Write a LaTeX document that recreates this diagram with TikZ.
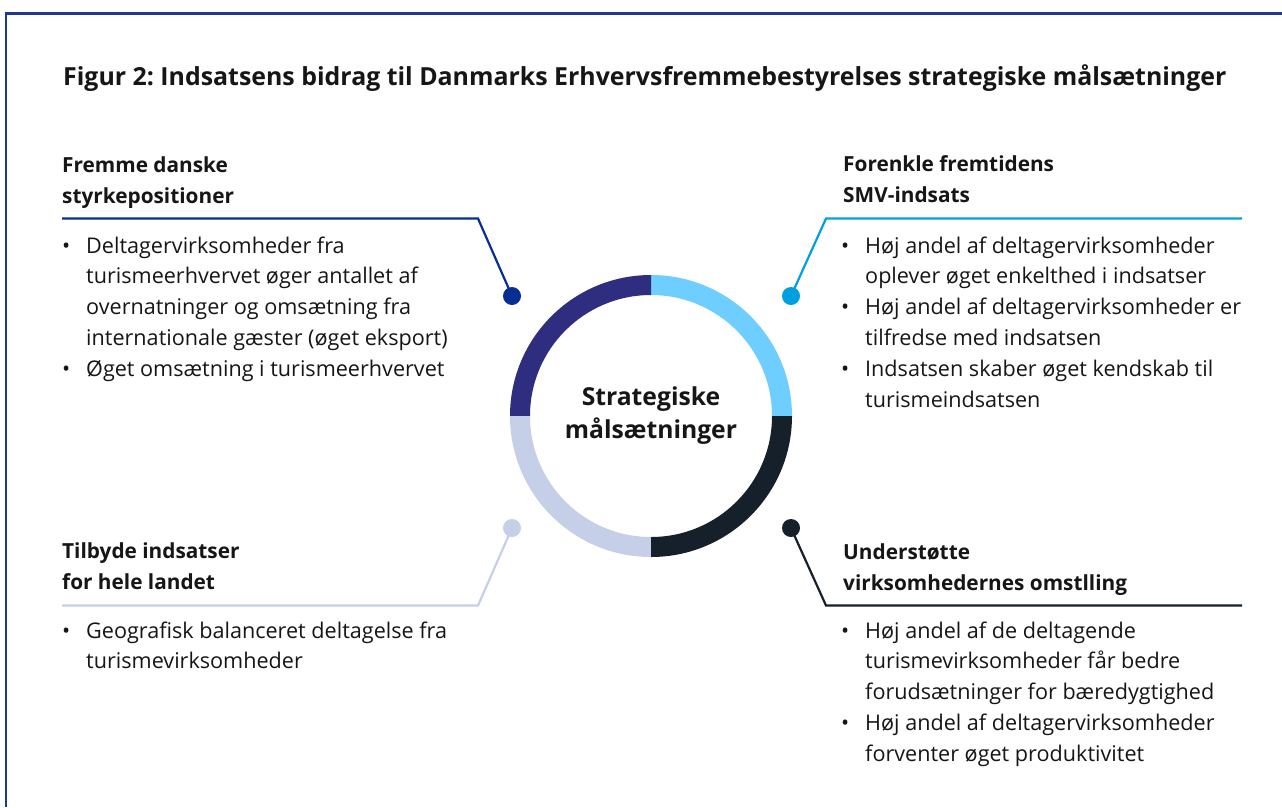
\documentclass[tikz,border=0pt]{standalone}
\usepackage{fontspec}
\setmainfont{Open Sans}
\usepackage{array}
\frenchspacing
\definecolor{frameblue}{RGB}{28,57,153}
\definecolor{segTL}{RGB}{46,45,127}
\definecolor{lineTL}{RGB}{8,46,150}
\definecolor{segTR}{RGB}{110,206,255}
\definecolor{lineTR}{RGB}{0,160,224}
\definecolor{segBR}{RGB}{22,32,42}
\definecolor{segBL}{RGB}{197,208,232}
\definecolor{txt}{RGB}{22,22,22}
\pgfdeclareradialshading{innershadow}{\pgfpoint{0bp}{-4bp}}{color(0bp)=(white); color(39bp)=(white); color(45bp)=(black!14); color(50bp)=(black!36)}
\tikzset{
  body/.style={anchor=base west, inner sep=0pt, text=txt, font=\fontsize{21.6}{30.8}\selectfont\frenchspacing},
  head/.style={anchor=base west, inner sep=0pt, text=txt, align=left, font=\fontsize{20.8}{31}\selectfont\bfseries},
  dotnode/.style={circle, inner sep=0pt, minimum size=18pt},
  conn/.style={line width=2.2pt, line join=miter},
}
\newcommand{\blist}[1]{\renewcommand{\arraystretch}{1}\begin{tabular}[t]{@{}p{24pt}@{}l@{}}#1\end{tabular}}
\begin{document}
\begin{tikzpicture}[x=1pt,y=-1pt]
\useasboundingbox (0,0) rectangle (1282,807);
\fill[white] (0,0) rectangle (1282,807);
% frame
\draw[frameblue, line width=2.6pt] (6,807) -- (6,13.5) -- (1282,13.5);
% title
\node[anchor=base west, inner sep=0pt, text=txt, font=\fontsize{24.9}{28}\selectfont\bfseries\frenchspacing] (title) at (63,85)
  {Figur 2: Indsatsens bidrag til Danmarks Erhvervsfremmebestyrelses strategiske målsætninger};
% ring
\coordinate (C) at (651,416);
\shade[shading=innershadow] (C) circle[radius=121pt];
\fill[segTR] ([shift={(0:141pt)}]C) arc[start angle=0,end angle=90,radius=141pt] -- ([shift={(90:121pt)}]C) arc[start angle=90,end angle=0,radius=121pt] -- cycle;
\fill[segTL] ([shift={(90:141pt)}]C) arc[start angle=90,end angle=180,radius=141pt] -- ([shift={(180:121pt)}]C) arc[start angle=180,end angle=90,radius=121pt] -- cycle;
\fill[segBL] ([shift={(180:141pt)}]C) arc[start angle=180,end angle=270,radius=141pt] -- ([shift={(270:121pt)}]C) arc[start angle=270,end angle=180,radius=121pt] -- cycle;
\fill[segBR] ([shift={(270:141pt)}]C) arc[start angle=270,end angle=360,radius=141pt] -- ([shift={(0:121pt)}]C) arc[start angle=360,end angle=270,radius=121pt] -- cycle;
\node[inner sep=0pt, text=txt, align=center, font=\fontsize{24.7}{33}\selectfont\bfseries, anchor=base] (center) at (651,438)
  {Strategiske\\målsætninger};
% dots
\node[dotnode, fill=lineTL] (dTL) at (512,296) {};
\node[dotnode, fill=lineTR] (dTR) at (791,296) {};
\node[dotnode, fill=segBL] (dBL) at (512,528) {};
\node[dotnode, fill=segBR] (dBR) at (791,528) {};
\coordinate (kTL) at (478,218.5); \coordinate (eTL) at (62,218.5);
\coordinate (kTR) at (826,218.5); \coordinate (eTR) at (1242,218.5);
\coordinate (kBL) at (478,605.5); \coordinate (eBL) at (62,605.5);
\coordinate (kBR) at (826,605.5); \coordinate (eBR) at (1242,605.5);
\draw[conn, lineTL] (dTL.center) -- (kTL) -- (eTL);
\draw[conn, lineTR] (dTR.center) -- (kTR) -- (eTR);
\draw[conn, segBL] (dBL.center) -- (kBL) -- (eBL);
\draw[conn, segBR] (dBR.center) -- (kBR) -- (eBR);
% headings (base anchor = last line)
\node[head] (hTL) at (62,203) {Fremme danske\\styrkepositioner};
\node[head] (hTR) at (843,202) {Forenkle fremtidens\\SMV-indsats};
\node[head] (hBL) at (62,589) {Tilbyde indsatser\\for hele landet};
\node[head] (hBR) at (843,590) {Understøtte\\virksomhedernes omstlling};
% bullet lists
\node[body] (bTL) at (62,253) {\blist{
  • & Deltagervirksomheder fra\\
    & turismeerhvervet øger antallet af\\
    & overnatninger og omsætning fra\\
    & internationale gæster (øget eksport)\\
  • & Øget omsætning i turismeerhvervet}};
\node[body] (bTR) at (841,253) {\blist{
  • & Høj andel af deltagervirksomheder\\
    & oplever øget enkelthed i indsatser\\
  • & Høj andel af deltagervirksomheder er\\
    & tilfredse med indsatsen\\
  • & Indsatsen skaber øget kendskab til\\
    & turismeindsatsen}};
\node[body] (bBL) at (62,638) {\blist{
  • & Geografisk balanceret deltagelse fra\\
    & turismevirksomheder}};
\node[body] (bBR) at (841,638) {\blist{
  • & Høj andel af de deltagende\\
    & turismevirksomheder får bedre\\
    & forudsætninger for bæredygtighed\\
  • & Høj andel af deltagervirksomheder\\
    & forventer øget produktivitet}};
\end{tikzpicture}
\end{document}
